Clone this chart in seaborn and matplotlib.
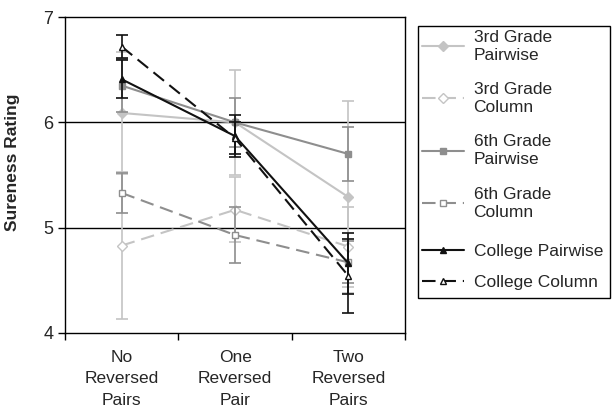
import matplotlib
matplotlib.use("Agg")
import matplotlib.pyplot as plt
import matplotlib.patches as mpatches
import seaborn as sns
import numpy as np

categories = ["No\nReversed\nPairs", "One\nReversed\nPair", "Two\nReversed\nPairs"]

third_pair = [6.09, 6.00, 5.29]
third_pair_err = [0.58, 0.50, 0.91]
third_col = [4.83, 5.17, 4.82]
third_col_err = [0.70, 0.31, 0.38]
sixth_pair = [6.35, 6.00, 5.70]
sixth_pair_err = [0.25, 0.23, 0.26]
sixth_col = [5.33, 4.93, 4.67]
sixth_col_err = [0.19, 0.27, 0.20]
coll_pair = [6.41, 5.87, 4.66]
coll_pair_err = [0.18, 0.20, 0.29]
coll_col = [6.72, 5.85, 4.54]
coll_col_err = [0.11, 0.15, 0.35]

labels = ["3rd Grade\nPairwise", "3rd Grade\nColumn", "6th Grade\nPairwise",
          "6th Grade\nColumn", "College Pairwise", "College Column"]

sns.set_theme(style="white")
plt.rcParams['font.family'] = ['Liberation Sans', 'DejaVu Sans']

W, H = 613, 409
fig = plt.figure(figsize=(W / 100, H / 100), dpi=100)
ax = fig.add_axes([0.106, 0.186, 0.555, 0.772])

light = "#c4c4c4"
mid = "#8e8e8e"
black = "#111111"

series = [
    (third_pair, third_pair_err, light, "D", light, "-", 5.5, 1),
    (third_col, third_col_err, light, "D", "white", "--", 5.5, 1),
    (sixth_pair, sixth_pair_err, mid, "s", mid, "-", 6, 2),
    (sixth_col, sixth_col_err, mid, "s", "white", "--", 6, 2),
    (coll_pair, coll_pair_err, black, "^", black, "-", 7, 3),
    (coll_col, coll_col_err, black, "^", "white", "--", 7, 3),
]

x = np.arange(len(categories))
for (vals, errs, col, mk, mfc, ls, ms, z), lab in zip(series, labels):
    ax.errorbar(x, vals, yerr=errs, fmt="none", ecolor=col, elinewidth=1.2,
                capsize=4.5, capthick=1.2, zorder=z)
    kw = dict(dashes=(6.5, 3.3)) if ls == "--" else {}
    sns.lineplot(x=x, y=vals, ax=ax, color=col, marker=mk, markersize=ms,
                 markerfacecolor=mfc, markeredgecolor=col, markeredgewidth=1,
                 linewidth=1.5, zorder=z + 0.5, label=lab, **kw)

ax.set_xlim(-0.5, 2.5)
ax.set_ylim(4, 7)
ax.set_yticks([4, 5, 6, 7])
ax.set_xticks(x)
ax.set_xticklabels(categories, fontsize=12.5, linespacing=1.55)
ax.set_xticks([-0.5, 0.5, 1.5, 2.5], minor=True)
ax.tick_params(axis="x", which="major", length=0, pad=12)
ax.tick_params(axis="x", which="minor", length=5, width=1, color="black", direction="out", bottom=True)
ax.tick_params(axis="y", which="major", length=5, width=1, color="black", direction="out", left=True, labelsize=13)
for v in [5, 6]:
    ax.axhline(v, color="black", linewidth=1, zorder=0.5)
for s in ax.spines.values():
    s.set_color("black")
    s.set_linewidth(1)
ax.set_ylabel("Sureness Rating", fontsize=12.5, fontweight="bold")
ax.yaxis.set_label_coords(-0.132, 0.54)
ax.set_xlabel("")

h, l = ax.get_legend_handles_labels()
for hh in h:
    hh.set_markersize(5)
common = dict(bbox_transform=fig.transFigure, frameon=False, fontsize=12.5,
              handlelength=2.45, handletextpad=0.55, borderpad=0, borderaxespad=0)
leg1 = ax.legend(h[:4], l[:4], loc="upper left", bbox_to_anchor=(421.5 / W, 1 - 29.5 / H),
                 labelspacing=1.12, **common)
for t in leg1.get_texts():
    t.set_linespacing(1.25)
ax.add_artist(leg1)
leg2 = ax.legend(h[4:], l[4:], loc="center left", bbox_to_anchor=(421.5 / W, 1 - 267 / H),
                 labelspacing=0.95, **common)

box = mpatches.Rectangle((417.7 / W, 1 - 298 / H), (610 - 417.7) / W, (298 - 25.7) / H,
                         transform=fig.transFigure, fill=False, edgecolor="black", linewidth=1)
fig.add_artist(box)

fig.savefig("out.png", dpi=100)
